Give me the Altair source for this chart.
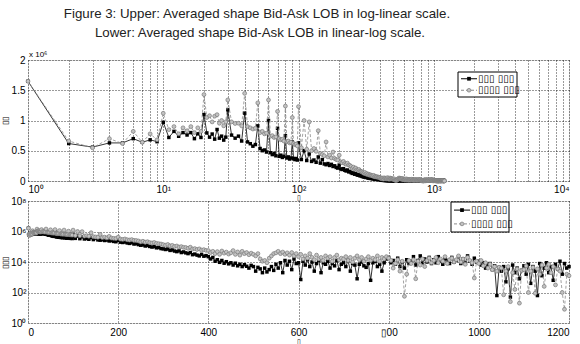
import altair as alt
import pandas as pd

# ---- data: sample positions (price levels away from best quote) ----
X = list(range(1, 31)) + list(range(32, 100, 2)) + list(range(100, 1201, 5))

# log10 of averaged volume
BID_LOG = [
    6.217, 5.792, 5.748, 5.799, 5.799, 5.845, 5.806, 5.833, 5.813, 5.987,
    5.857, 5.914, 5.869, 5.903, 5.881, 5.903, 5.845, 5.892, 5.857, 6.041,
    5.900, 5.860, 5.890, 5.840, 5.930, 5.850, 5.870, 5.830, 5.860, 6.070,
    5.88, 5.85, 5.87, 5.82, 6.05, 5.81, 5.79, 5.76, 5.78, 5.96,
    5.73, 5.70, 5.71, 5.68, 6.00, 5.67, 5.64, 5.66, 5.62, 5.94,
    5.61, 5.63, 5.59, 5.61, 5.875, 5.58, 5.60, 5.56, 5.58, 5.81,
    5.57, 5.55, 5.57, 5.54,
    5.80, 5.55, 5.70, 5.53, 5.65, 5.51, 5.54, 5.49, 5.60, 5.47,
    5.55, 5.45, 5.43, 5.46, 5.41, 5.44, 5.38, 5.40, 5.35, 5.33,
    5.42, 5.30, 5.28, 5.31, 5.25, 5.22, 5.26, 5.18, 5.20, 5.14,
    5.10, 5.12, 5.05, 5.08, 5.02, 4.98, 5.01, 4.93, 4.95, 4.88,
    4.86, 4.82, 4.85, 4.76, 4.79, 4.72, 4.68, 4.73, 4.62, 4.66,
    4.60, 4.55, 4.62, 4.48, 4.52, 4.45, 4.40, 4.50, 4.38, 4.42,
    4.35, 4.20, 4.30, 4.05, 4.15, 3.98, 4.10, 3.92, 4.02, 3.88,
    3.95, 3.80, 3.92, 3.75, 3.85, 3.70, 3.82, 3.72, 3.60, 3.78,
    3.70, 3.40, 3.65, 3.55, 3.30, 3.60, 3.35, 3.50, 3.70, 3.45,
    3.85, 3.60, 3.95, 3.30, 4.10, 3.80, 4.05, 3.50, 4.20, 3.90,
    3.95, 2.85, 4.05, 3.80, 4.15, 3.70, 4.00, 3.40, 3.90, 4.10,
    3.30, 3.95, 3.85, 4.05, 3.60, 3.90, 3.75, 4.10, 3.50, 3.85,
    3.95, 3.70, 4.10, 3.40, 3.90, 3.80, 2.90, 3.85, 4.00, 3.75,
    3.65, 3.90, 2.80, 3.95, 4.05, 3.70, 3.85, 3.40, 3.95, 4.20,
    4.30, 3.95, 4.10, 3.85, 4.25, 3.70, 4.00, 3.60, 4.15, 3.90,
    4.05, 4.35, 3.80, 4.10, 4.40, 3.95, 4.20, 4.00, 4.30, 3.90,
    4.15, 3.95, 4.35, 4.05, 3.85, 4.20, 4.10, 3.90, 4.30, 4.00,
    4.10, 4.35, 3.90, 4.20, 3.95, 4.40, 4.05, 3.85, 4.25, 4.00,
    4.05, 3.80, 3.95, 3.60, 3.85, 3.90, 3.50, 3.75, 1.80, 3.65,
    3.40, 3.70, 2.70, 3.55, 1.70, 3.80, 3.30, 3.60, 2.90, 3.45,
    3.75, 3.20, 3.85, 2.60, 3.70, 3.40, 1.80, 3.90, 3.10, 3.60,
    3.95, 3.30, 3.70, 2.80, 3.85, 3.55, 4.05, 3.20, 3.90, 3.60,
    3.70,
]

ASK_LOG = [
    6.217, 5.820, 5.740, 5.845, 5.792, 5.914, 5.806, 5.892, 5.833, 6.049,
    5.929, 5.954, 5.892, 5.944, 5.919, 5.954, 5.903, 5.944, 5.914, 6.155,
    6.021, 6.033, 5.990, 6.030, 6.040, 5.980, 6.000, 5.960, 5.990, 6.127,
    5.990, 5.978, 5.980, 5.960, 6.161, 5.954, 5.944, 5.934, 5.940, 6.111,
    5.903, 5.914, 5.892, 5.898, 6.127, 5.869, 5.875, 5.857, 5.863, 6.061,
    5.845, 5.833, 5.839, 5.820, 6.093, 5.813, 5.820, 5.799, 5.806, 6.021,
    5.792, 5.778, 5.785, 5.763,
    6.09, 5.74, 6.00, 5.72, 5.99, 5.70, 5.73, 5.69, 5.92, 5.66,
    5.64, 5.62, 5.81, 5.60, 5.63, 5.58, 5.68, 5.57, 5.55, 5.54,
    5.63, 5.50, 5.48, 5.51, 5.46, 5.44, 5.47, 5.42, 5.41, 5.38,
    5.32, 5.36, 5.30, 5.33, 5.27, 5.25, 5.28, 5.22, 5.20, 5.18,
    5.14, 5.10, 5.15, 5.06, 5.09, 5.02, 5.05, 4.98, 5.01, 4.96,
    4.95, 4.90, 4.97, 4.85, 4.88, 4.82, 4.86, 4.78, 4.81, 4.76,
    4.75, 4.62, 4.70, 4.55, 4.68, 4.50, 4.72, 4.58, 4.65, 4.52,
    4.60, 4.75, 4.50, 4.66, 4.45, 4.70, 4.55, 4.62, 4.48, 4.58,
    4.50, 4.40, 4.55, 4.20, 4.05, 4.10, 3.95, 4.25, 4.40, 4.55,
    4.60, 4.70, 4.55, 4.65, 4.50, 4.60, 4.45, 4.62, 4.40, 4.55,
    4.35, 4.50, 4.20, 4.40, 4.25, 4.55, 4.30, 4.15, 4.45, 4.20,
    4.30, 4.10, 4.40, 4.25, 4.35, 4.05, 4.30, 4.45, 4.15, 4.25,
    4.20, 4.35, 4.10, 4.30, 4.00, 4.25, 4.40, 4.15, 4.30, 4.05,
    4.20, 4.35, 4.10, 4.25, 4.15, 4.40, 4.05, 4.30, 4.20, 4.35,
    4.25, 4.10, 3.60, 3.90, 4.15, 3.40, 4.05, 1.75, 3.20, 4.10,
    3.90, 4.15, 2.90, 4.05, 3.80, 4.20, 3.70, 4.10, 4.25, 3.95,
    4.10, 4.30, 3.95, 4.20, 4.05, 4.35, 3.90, 4.15, 4.25, 4.00,
    4.15, 4.40, 4.00, 4.20, 3.85, 4.30, 4.10, 3.95, 2.95, 4.05,
    3.90, 4.10, 3.75, 3.95, 3.60, 3.85, 3.50, 3.70, 3.40, 3.65,
    3.60, 1.85, 3.40, 3.70, 1.40, 3.30, 2.20, 3.55, 1.30, 3.45,
    3.50, 3.75, 2.00, 3.40, 3.65, 1.95, 3.55, 3.20, 3.80, 2.40,
    3.60, 3.85, 3.30, 3.70, 2.50, 3.55, 3.40, 2.00, 0.90, 3.20,
    3.10,
]

TITLE_LINES = [
    "Figure 3: Upper: Averaged shape Bid-Ask LOB in log-linear scale.",
    "Lower: Averaged shape Bid-Ask LOB in linear-log scale.",
]
LEGEND_LABELS = ["▯▯▯ ▯▯▯", "▯▯▯▯ ▯▯▯"]
UP_X_TICKS = [m * 10 ** k for k in range(4) for m in range(1, 10)] + [10000]
UP_Y_TICKS = [0, 0.5, 1, 1.5, 2]
LO_X_TICKS = [0, 200, 400, 600, 800, 1000, 1200]
LO_Y_TICKS = [1, 100, 10000, 1000000, 100000000]

assert len(BID_LOG) == len(X) and len(ASK_LOG) == len(X)

bid = pd.DataFrame({"x": X, "v": BID_LOG})
ask = pd.DataFrame({"x": X, "v": ASK_LOG})
for d in (bid, ask):
    d["m"] = 10 ** (d["v"] - 6)   # in units of 1e6
    d["raw"] = 10 ** d["v"]

FONT = "Liberation Sans"
W = 541
H_UP = 121
H_LO = 122
GRAY_LINE = "#8a8a8a"
GRAY_FILL = "#c2c2c2"
GRAY_EDGE = "#7a7a7a"

grid_kw = dict(grid=True, gridColor="black", gridDash=[1, 2], gridWidth=0.8,
               gridOpacity=1, domain=False, ticks=False, labelFont=FONT,
               labelFontSize=10, labelColor="black", labelOverlap=False,
               titleFont=FONT, titleFontWeight="normal", titleColor="black")

sup = "{'0':'⁰','1':'¹','2':'²','3':'³','4':'⁴','6':'⁶','8':'⁸'}"

up_x = alt.X("x:Q", scale=alt.Scale(type="log", domain=[1, 10000]),
             axis=alt.Axis(values=UP_X_TICKS, labelPadding=3,
                           labelExpr="indexof([1,10,100,1000,10000], datum.value) >= 0 ? '10' + "
                                     + sup + "[format(log(datum.value)/log(10)+0.001, 'd')] : ''",
                           title="▯", titleFontSize=7, titlePadding=-1, **grid_kw))
up_y = alt.Y("m:Q", scale=alt.Scale(domain=[0, 2]),
             axis=alt.Axis(values=UP_Y_TICKS, labelPadding=3,
                           labelExpr="datum.value == 0 ? '0' : format(datum.value, '.2~f')",
                           title="▯▯", titleFontSize=8, titlePadding=2, **grid_kw))

lo_x = alt.X("x:Q", scale=alt.Scale(domain=[0, 1200], nice=False),
             axis=alt.Axis(values=LO_X_TICKS, labelPadding=4, format="d",
                           labelExpr="datum.value == 800 ? '▯00' : datum.label",
                           title="▯", titleFontSize=7, titlePadding=0, **grid_kw))
lo_y = alt.Y("raw:Q", scale=alt.Scale(type="log", domain=[1, 1e8]),
             axis=alt.Axis(values=LO_Y_TICKS, labelPadding=2,
                           labelExpr="'10' + " + sup + "[format(log(datum.value)/log(10)+0.001, 'd')]",
                           title="▯▯▯", titleFontSize=8, titlePadding=1, **grid_kw))


def data_layers(x_enc, y_enc):
    bl = alt.Chart(bid).mark_line(color="black", strokeWidth=0.8).encode(x=x_enc, y=y_enc)
    bp = alt.Chart(bid).mark_point(shape="square", filled=True, color="black",
                                   size=12, opacity=1).encode(x=x_enc, y=y_enc)
    al = alt.Chart(ask).mark_line(color=GRAY_LINE, strokeWidth=0.8,
                                  strokeDash=[3, 2]).encode(x=x_enc, y=y_enc)
    ap = alt.Chart(ask).mark_point(shape="circle", fill=GRAY_FILL, stroke=GRAY_EDGE,
                                   strokeWidth=0.7, size=15, opacity=1,
                                   fillOpacity=1).encode(x=x_enc, y=y_enc)
    return [bl, bp, al, ap]


one = alt.Data(values=[{}])


def legend_layers(x0, y0, w, h):
    box = alt.Chart(one).mark_rect(fill="white", stroke="black", strokeWidth=1).encode(
        x=alt.value(x0), x2=alt.value(x0 + w), y=alt.value(y0), y2=alt.value(y0 + h))
    r1y = y0 + h * 0.27
    r2y = y0 + h * 0.73
    l1 = alt.Chart(one).mark_rule(color="black", strokeWidth=1).encode(
        x=alt.value(x0 + 3), x2=alt.value(x0 + 19), y=alt.value(r1y))
    p1 = alt.Chart(one).mark_point(shape="square", filled=True, color="black", size=14,
                                   opacity=1).encode(x=alt.value(x0 + 11), y=alt.value(r1y))
    l2 = alt.Chart(one).mark_rule(color=GRAY_LINE, strokeWidth=1, strokeDash=[3, 2]).encode(
        x=alt.value(x0 + 3), x2=alt.value(x0 + 19), y=alt.value(r2y))
    p2 = alt.Chart(one).mark_point(shape="circle", fill=GRAY_FILL, stroke=GRAY_EDGE,
                                   strokeWidth=0.7, size=14, opacity=1).encode(
        x=alt.value(x0 + 11), y=alt.value(r2y))
    t1 = alt.Chart(one).mark_text(align="left", baseline="middle", font="DejaVu Sans",
                                  fontSize=10, color="black").encode(
        x=alt.value(x0 + 20), y=alt.value(r1y), text=alt.value(LEGEND_LABELS[0]))
    t2 = alt.Chart(one).mark_text(align="left", baseline="middle", font="DejaVu Sans",
                                  fontSize=10, color="black").encode(
        x=alt.value(x0 + 20), y=alt.value(r2y), text=alt.value(LEGEND_LABELS[1]))
    return [box, l1, p1, l2, p2, t1, t2]


title1 = alt.Chart(one).mark_text(align="center", baseline="middle", font=FONT,
                                  fontSize=13.3, color="#222222").encode(
    x=alt.value(229), y=alt.value(-46), text=alt.value(TITLE_LINES[0]))
title2 = alt.Chart(one).mark_text(align="center", baseline="middle", font=FONT,
                                  fontSize=13.3, color="#222222").encode(
    x=alt.value(232), y=alt.value(-27), text=alt.value(TITLE_LINES[1]))
exp_txt = alt.Chart(one).mark_text(align="left", baseline="alphabetic", font=FONT,
                                   fontSize=8, color="black").encode(
    x=alt.value(1), y=alt.value(-3), text=alt.value("x 10⁶"))

upper = alt.layer(*data_layers(up_x, up_y), *legend_layers(430, 12, 59, 25),
                  title1, title2, exp_txt).properties(width=W, height=H_UP)
lower = alt.layer(*data_layers(lo_x, lo_y), *legend_layers(423, 1, 58, 30)).properties(
    width=W, height=H_LO)

chart = alt.vconcat(upper, lower, spacing=20, bounds="flush").properties(
    padding={"left": 0, "top": 6, "right": 0, "bottom": 0},
).configure_view(stroke="black", strokeWidth=1).configure(background="white")

chart.save("out.html", embed_options={"renderer": "svg", "actions": False})
